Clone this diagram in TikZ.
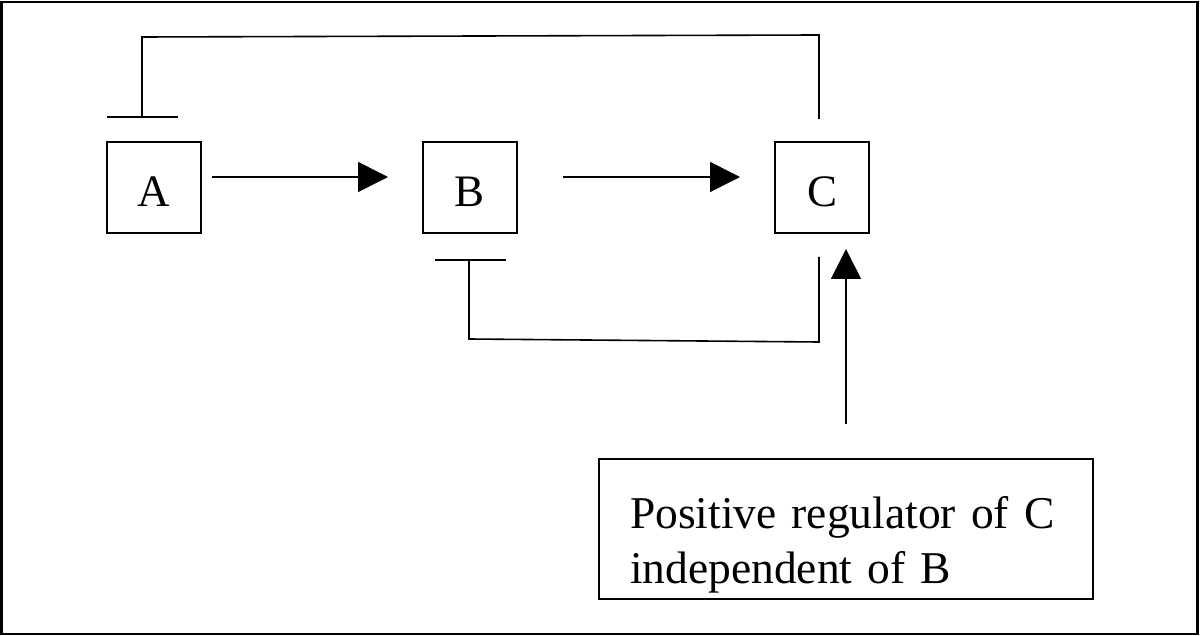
\documentclass[tikz,border=0pt]{standalone}
\usepackage{fontspec}
\setmainfont{Liberation Serif}
\usetikzlibrary{arrows.meta}
\begin{document}
\begin{tikzpicture}[x=1pt,y=-1pt,
  line width=1.6pt,
  gene/.style={draw, minimum width=94pt, minimum height=91pt, inner sep=0pt, text height=39pt, text depth=0pt, font=\fontsize{45}{54}\selectfont},
  act/.style={-{Triangle[length=30pt,width=30pt]}},
  txtbox/.style={draw, minimum width=494pt, minimum height=140pt, inner sep=0pt, text width=432pt, align=left, font=\fontsize{45.5}{55}\selectfont}]
\useasboundingbox (0,0) rectangle (1200,636);
\draw[line width=2.2pt] (1.5,2) rectangle (1197.5,634);
\node[gene] (A) at (154,187.5) {A};
\node[gene] (B) at (470,187.5) {B};
\node[gene] (C) at (822,187.5) {C};
\node[txtbox] (R) at (846,529) {\rule{0pt}{64pt}Positive regulator of C\\independent of B};
% activation arrows
\coordinate (a1) at (212,177);
\coordinate (b0) at (388,177);
\coordinate (b1) at (563,177);
\coordinate (c0) at (740,177);
\draw[act] (a1) -- (b0);
\draw[act] (b1) -- (c0);
\coordinate (r0) at (846,424);
\coordinate (r1) at (846,249);
\draw[act] (r0) -- (r1);
% top inhibition C -| A
\coordinate (ct) at (819,119);
\coordinate (tr) at (819,35);
\coordinate (tl) at (142,37);
\coordinate (ta) at (142,117);
\draw (ct) -- (tr) -- (tl) -- (ta);
\draw (107,117) -- (178,117);
% bottom inhibition C -| B
\coordinate (cb) at (819,257);
\coordinate (br) at (819,342);
\coordinate (bl) at (469,339);
\coordinate (bb) at (469,260);
\draw (cb) -- (br) -- (bl) -- (bb);
\draw (435,260) -- (506,260);
\end{tikzpicture}
\end{document}
